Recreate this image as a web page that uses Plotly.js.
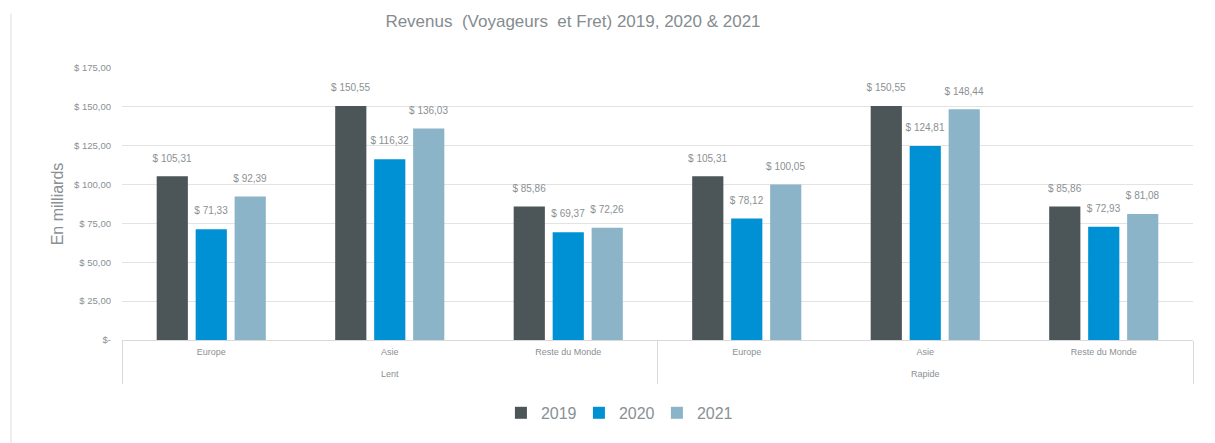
<!DOCTYPE html>
<html>
<head>
<meta charset="utf-8">
<script src="https://cdn.plot.ly/plotly-3.0.1.min.js"></script>
<style>html,body{margin:0;padding:0;background:#fff;}#chart{width:1215px;height:443px;}</style>
</head>
<body>
<div id="chart"></div>
<script>
// ---- data ----
const speeds = ["Lent", "Lent", "Lent", "Rapide", "Rapide", "Rapide"];
const regions = ["Europe", "Asie", "Reste du Monde", "Europe", "Asie", "Reste du Monde"];
const seriesNames = ["2019", "2020", "2021"];
const values2019 = [105.31, 150.55, 85.86, 105.31, 150.55, 85.86];
const values2020 = [71.33, 116.32, 69.37, 78.12, 124.81, 72.93];
const values2021 = [92.39, 136.03, 72.26, 100.05, 148.44, 81.08];
const tickValues = [0, 25, 50, 75, 100, 125, 150, 175];
const tickLabels = tickValues.map(v => v === 0 ? "$-" : "$ " + v.toFixed(2).replace(".", ","));

// category index positions and group structure derived from the arrays
const idx = regions.map((_, i) => i);
const groups = [...new Set(speeds)];
const groupCenters = groups.map(g => {
  const ii = idx.filter(i => speeds[i] === g);
  return (ii[0] + ii[ii.length - 1]) / 2;
});
const dividers = [-0.5];
idx.forEach(i => { if (i > 0 && speeds[i] !== speeds[i - 1]) dividers.push(i - 0.5); });
dividers.push(idx.length - 0.5);
const xRange = [-0.5, idx.length - 0.5];

const colors = ["#4c5557", "#0091d4", "#8bb4c8"];
const FONT = "'Liberation Sans Narrow', 'Liberation Sans', Arial, sans-serif";
const GRAY = "#8a9093";

const allValues = [values2019, values2020, values2021];
const traces = allValues.map((vals, i) => ({
  type: "bar",
  name: seriesNames[i],
  x: idx,
  y: vals,
  marker: {color: colors[i]},
  texttemplate: "<span style='font-size:10px'>$ %{y:.2f}</span><br> ",
  textposition: "outside",
  constraintext: "none",
  cliponaxis: false,
  textfont: {family: FONT, size: 7.5, color: GRAY},
  hoverinfo: "skip"
}));

// empty helper traces so the overlaid label / divider axes get drawn
traces.push({type: "scatter", mode: "none", x: groupCenters, y: groupCenters.map(() => null),
  xaxis: "x2", yaxis: "y", showlegend: false, hoverinfo: "skip"});
traces.push({type: "scatter", mode: "none", x: dividers, y: dividers.map(() => null),
  xaxis: "x3", yaxis: "y", showlegend: false, hoverinfo: "skip"});

const baseX = {
  type: "linear",
  range: xRange,
  autorange: false,
  showgrid: false,
  zeroline: false,
  fixedrange: true
};

const layout = {
  width: 1215,
  height: 443,
  margin: {l: 122, r: 22, t: 68, b: 103},
  paper_bgcolor: "#ffffff",
  plot_bgcolor: "#ffffff",
  separators: ", ",
  font: {family: FONT, color: GRAY},
  title: {
    text: "Revenus  (Voyageurs  et Fret) 2019, 2020 &amp; 2021",
    font: {family: FONT, size: 17, color: "#858c8f"},
    x: 0.4716, xanchor: "center", y: 0.953, yanchor: "middle"
  },
  barmode: "group",
  bargap: 0.345,
  bargroupgap: 0.2,
  xaxis: Object.assign({}, baseX, {
    showline: true,
    linecolor: "#d9d9d9",
    linewidth: 1,
    ticks: "",
    tickvals: idx,
    ticktext: regions,
    ticklabelstandoff: 3,
    tickfont: {family: FONT, size: 9, color: GRAY}
  }),
  xaxis2: Object.assign({}, baseX, {
    overlaying: "x",
    anchor: "y",
    side: "bottom",
    showline: false,
    ticks: "",
    tickvals: groupCenters,
    ticktext: groups,
    ticklabelstandoff: 27,
    tickfont: {family: FONT, size: 9, color: GRAY}
  }),
  xaxis3: Object.assign({}, baseX, {
    overlaying: "x",
    anchor: "y",
    side: "bottom",
    showline: false,
    ticks: "outside",
    ticklen: 43,
    tickwidth: 1,
    tickcolor: "#d9d9d9",
    tickvals: dividers,
    showticklabels: false
  }),
  yaxis: {
    range: [0, 175],
    tickvals: tickValues,
    ticktext: tickLabels,
    showgrid: true,
    gridcolor: "#e3e3e3",
    gridwidth: 1,
    zeroline: false,
    showline: false,
    ticks: "",
    ticklabelstandoff: 10,
    fixedrange: true,
    tickfont: {family: FONT, size: 9.5, color: GRAY},
    title: {text: "En milliards", font: {family: FONT, size: 16, color: GRAY}, standoff: 6}
  },
  showlegend: true,
  legend: {
    orientation: "h",
    x: 0.3538, xanchor: "left",
    y: -0.268, yanchor: "middle",
    font: {family: FONT, size: 16, color: GRAY},
    itemwidth: 30,
    entrywidth: 33,
    entrywidthmode: "pixels",
    traceorder: "normal"
  },
  shapes: [{
    type: "line", xref: "paper", yref: "paper",
    x0: -0.1036, x1: -0.1036, y0: 1.2, y1: -0.38,
    line: {color: "#dcdcdc", width: 1}
  }]
};

Plotly.newPlot("chart", traces, layout, {displayModeBar: false, staticPlot: true});
</script>
</body>
</html>
